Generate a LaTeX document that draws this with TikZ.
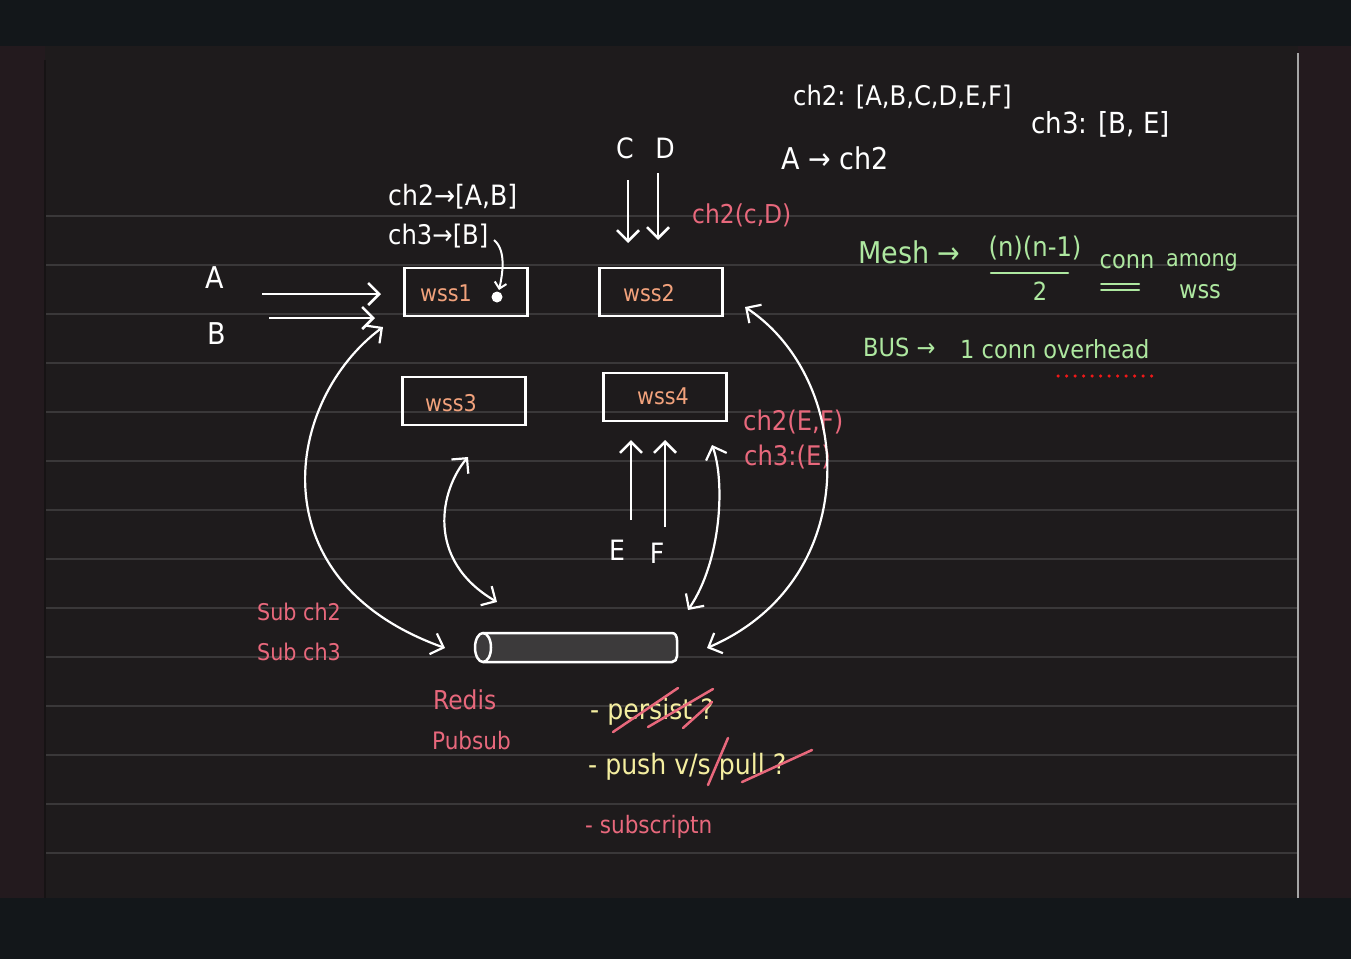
\documentclass[tikz,border=0pt]{standalone}
\usepackage{fontspec}
\setmainfont{DejaVu Sans Condensed}
\usetikzlibrary{arrows.meta}
\definecolor{topband}{HTML}{13171A}
\definecolor{margin}{HTML}{231A1E}
\definecolor{page}{HTML}{1E1B1C}
\definecolor{rule}{HTML}{3A3839}
\definecolor{leftline}{HTML}{161314}
\definecolor{wsstxt}{HTML}{F2A27C}
\definecolor{pinktxt}{HTML}{E8687C}
\definecolor{greentxt}{HTML}{AEE8A0}
\definecolor{yellowtxt}{HTML}{F4EEA0}
\definecolor{reddot}{HTML}{F01818}
\definecolor{cylfill}{HTML}{3C3A3B}
\tikzset{
  wssbox/.style={draw=white, line width=2.5pt, minimum width=123pt, minimum height=48pt, inner sep=0pt},
  wsslabel/.style={text=wsstxt, font=\fontsize{23}{26}\selectfont},
  wtxt/.style={text=white, font=\fontsize{24}{28}\selectfont, inner sep=0pt},
  ptxt/.style={text=pinktxt, font=\fontsize{23}{26}\selectfont, inner sep=0pt},
  gtxt/.style={text=greentxt, font=\fontsize{25}{28}\selectfont, inner sep=0pt},
  ytxt/.style={text=yellowtxt, font=\fontsize{23}{26}\selectfont, inner sep=0pt},
  arr/.style={draw=white, line width=2.5pt, -{Straight Barb[length=11pt,width=22pt,line width=2.5pt]}},
  darr/.style={draw=white, line width=2.2pt, {Straight Barb[length=11pt,width=22pt,line width=2.2pt]}-{Straight Barb[length=11pt,width=22pt,line width=2.2pt]}},
  strike/.style={draw=pinktxt, line width=2.5pt, line cap=round},
}
\begin{document}
\begin{tikzpicture}[x=1pt,y=-1pt]
\useasboundingbox (0,0) rectangle (1351,959);
% background
\fill[topband] (0,0) rectangle (1351,959);
\fill[margin] (0,46) rectangle (1351,898);
\fill[page] (45,46) rectangle (1298,898);
\draw[leftline, line width=1.5pt] (45,60) -- (45,898);
\draw[gray!70, line width=1.5pt] (1298,53) -- (1298,898);
\foreach \k in {0,...,13} {
  \draw[rule, line width=2pt] (46,216+49*\k) -- (1297,216+49*\k);
}

% boxes
\node[wssbox] (wss1) at (466,292) {};
\node[wsslabel] (l1) at (446,293) {wss1};
\fill[white] (497,297) circle (5.5pt);
\coordinate (dot) at (497,297);
\node[wssbox] (wss2) at (661,292) {};
\node[wsslabel] (l2) at (649,293) {wss2};
\node[wssbox] (wss3) at (464,401) {};
\node[wsslabel] (l3) at (451,403) {wss3};
\node[wssbox] (wss4) at (665,397) {};
\node[wsslabel] (l4) at (663,396) {wss4};

% Redis cylinder
\filldraw[fill=cylfill, draw=white, line width=2.5pt]
  (483,633) -- (672,633) to[out=0,in=90] (677,640) -- (677,656) to[out=-90,in=0] (672,662) -- (483,662)
  arc[start angle=270, end angle=90, x radius=8pt, y radius=14.5pt] -- cycle;
\draw[white, line width=2.5pt] (483,633) arc[start angle=90, end angle=-90, x radius=8pt, y radius=14.5pt];
\coordinate (redis) at (576,647);

% left labels
\node[wtxt, font=\fontsize{30}{32}\selectfont] (A) at (215,278) {A};
\node[wtxt, font=\fontsize{30}{32}\selectfont] (B) at (217,334) {B};
\coordinate (As) at (262,294); \coordinate (Ae) at (381,294);
\coordinate (Bs) at (269,318); \coordinate (Be) at (375,318);
\draw[arr] (As) -- (Ae);
\draw[arr] (Bs) -- (Be);

\node[wtxt, anchor=west, font=\fontsize{28}{30}\selectfont] (ch2ab) at (388,197) {ch2→[A,B]};
\node[wtxt, anchor=west, font=\fontsize{27}{30}\selectfont] (ch3b) at (388,236) {ch3→[B]};
\coordinate (dots) at (494,240);
\draw[white, line width=2pt, -{Straight Barb[length=6pt,width=12pt,line width=2pt]}] (dots) .. controls (506,250) and (503,272) .. (499,290);

% C D
\node[wtxt, font=\fontsize{28}{30}\selectfont] (C) at (625,148) {C};
\node[wtxt, font=\fontsize{28}{30}\selectfont] (D) at (665,148) {D};
\coordinate (Cs) at (628,180); \coordinate (Ce) at (628,243);
\coordinate (Ds) at (658,173); \coordinate (De) at (658,240);
\draw[arr] (Cs) -- (Ce);
\draw[arr] (Ds) -- (De);
\node[ptxt, anchor=west, font=\fontsize{26}{28}\selectfont] (ch2cd) at (692,215) {ch2(c,D)};

% E F
\coordinate (Es) at (631,520); \coordinate (Ee) at (631,440);
\coordinate (Fs) at (665,527); \coordinate (Fe) at (665,440);
\draw[arr] (Es) -- (Ee);
\draw[arr] (Fs) -- (Fe);
\node[wtxt, font=\fontsize{28}{30}\selectfont] (E) at (617,550) {E};
\node[wtxt, font=\fontsize{28}{30}\selectfont] (F) at (657,553) {F};
\node[ptxt, anchor=west, font=\fontsize{27}{30}\selectfont] (ch2ef) at (743,422) {ch2(E,F)};
\node[ptxt, anchor=west, font=\fontsize{27}{30}\selectfont] (ch3e) at (744,457) {ch3:(E)};

% curves
\coordinate (c1a) at (383,327); \coordinate (c1b) at (445,648);
\draw[darr] (c1a) .. controls (285,400) and (255,580) .. (c1b);
\coordinate (c2a) at (468,457); \coordinate (c2b) at (497,602);
\draw[darr] (c2a) .. controls (440,490) and (425,560) .. (c2b);
\coordinate (c3a) at (712,445); \coordinate (c3b) at (688,610);
\draw[darr] (c3a) .. controls (725,480) and (722,560) .. (c3b);
\coordinate (c4a) at (745,307); \coordinate (c4b) at (707,648);
\draw[darr] (c4a) .. controls (855,380) and (865,580) .. (c4b);

\node[ptxt, anchor=west] (sub2) at (257,612) {Sub ch2};
\node[ptxt, anchor=west] (sub3) at (257,652) {Sub ch3};
\node[ptxt, anchor=west, font=\fontsize{26}{28}\selectfont] (red) at (433,700) {Redis};
\node[ptxt, anchor=west, font=\fontsize{24}{28}\selectfont] (pub) at (432,741) {Pubsub};

% list
\node[ytxt, anchor=west, font=\fontsize{28}{30}\selectfont] (li1) at (590,712) {- persist ?};
\node[ytxt, anchor=west, font=\fontsize{28}{30}\selectfont] (li2) at (588,767) {- push v/s pull ?};
\node[ptxt, anchor=west, font=\fontsize{24}{28}\selectfont] (li3) at (585,827) {- subscriptn};
\draw[strike] (613,732) -- (678,688);
\draw[strike] (648,727) -- (713,689);
\draw[strike] (683,728) -- (712,702);
\draw[strike] (708,785) -- (728,738);
\draw[strike] (742,782) -- (812,750);

% top right
\node[wtxt, anchor=west, font=\fontsize{27}{30}\selectfont] (ch2all) at (793,97) {ch2: [A,B,C,D,E,F]};
\node[wtxt, anchor=west, font=\fontsize{29}{32}\selectfont] (ch3all) at (1031,124) {ch3: [B, E]};
\node[wtxt, anchor=west, font=\fontsize{30}{32}\selectfont] (ach2) at (781,158) {A → ch2};

% mesh / bus
\node[gtxt, anchor=west, font=\fontsize{30}{32}\selectfont] (mesh) at (858,252) {Mesh →};
\node[gtxt, font=\fontsize{27}{30}\selectfont] (num) at (1035,248) {(n)(n-1)};
\coordinate (fl) at (991,273); \coordinate (fr) at (1068,273);
\draw[greentxt, line width=2.5pt, line cap=round] (fl) -- (fr);
\node[gtxt] (den) at (1040,291) {2};
\node[gtxt] (conn) at (1127,262) {conn};
\coordinate (u1l) at (1101,284); \coordinate (u1r) at (1139,284);
\coordinate (u2l) at (1101,290); \coordinate (u2r) at (1139,290);
\draw[greentxt, line width=2pt, line cap=round] (u1l) -- (u1r);
\draw[greentxt, line width=2pt, line cap=round] (u2l) -- (u2r);
\node[gtxt, font=\fontsize{23}{26}\selectfont] (among) at (1202,262) {among};
\node[gtxt] (wss) at (1200,292) {wss};
\node[gtxt, anchor=west] (bus) at (863,347) {BUS →};
\node[gtxt, anchor=west] (oneconn) at (960,349) {1 conn overhead};
\coordinate (d1) at (1058,376); \coordinate (d2) at (1152,376);
\draw[reddot, line width=3.5pt, line cap=round, dash pattern=on 0pt off 8.5pt] (d1) -- (d2);
\end{tikzpicture}
\end{document}
